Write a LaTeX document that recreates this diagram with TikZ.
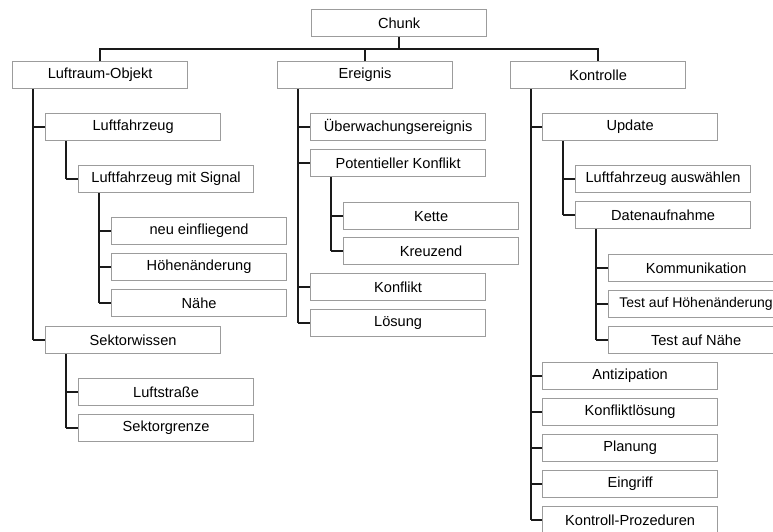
\documentclass[tikz,border=0pt]{standalone}
\usepackage{fontspec}
\setmainfont{Liberation Sans}
\definecolor{boxline}{HTML}{9C9C9C}
\definecolor{link}{HTML}{1A1A1A}
\begin{document}
\begin{tikzpicture}[x=1pt,y=-1pt,
  item/.style={draw=boxline, line width=1.2pt, fill=white, anchor=north west,
    minimum width=175pt, minimum height=27pt, inner sep=0pt,
    font=\fontsize{14.6}{16}\selectfont},
  tree/.style={draw=link, line width=1.5pt}]
\useasboundingbox (0,0) rectangle (773,531);
\clip (0,0) rectangle (773,531);

% root and first level
\node[item] (chunk) at (311,9)  {Chunk};
\node[item] (lo)    at (12,61)  {Luftraum-Objekt};
\node[item] (er)    at (277,61) {Ereignis};
\node[item] (ko)    at (510,61) {Kontrolle};

% Luftraum-Objekt branch
\node[item] (lf)  at (45,113)  {Luftfahrzeug};
\node[item] (lfs) at (78,165)  {Luftfahrzeug mit Signal};
\node[item] (neu) at (111,217) {neu einfliegend};
\node[item] (hoe) at (111,253) {Höhenänderung};
\node[item] (nae) at (111,289) {Nähe};
\node[item] (sek) at (45,326)  {Sektorwissen};
\node[item] (str) at (78,378)  {Luftstraße};
\node[item] (sgr) at (78,414)  {Sektorgrenze};

% Ereignis branch
\node[item] (ue)  at (310,113) {Überwachungsereignis};
\node[item] (pk)  at (310,149) {Potentieller Konflikt};
\node[item] (ket) at (343,202) {Kette};
\node[item] (kre) at (343,237) {Kreuzend};
\node[item] (kon) at (310,273) {Konflikt};
\node[item] (loe) at (310,309) {Lösung};

% Kontrolle branch
\node[item] (up)  at (542,113) {Update};
\node[item] (lfa) at (575,165) {Luftfahrzeug auswählen};
\node[item] (dat) at (575,201) {Datenaufnahme};
\node[item] (kom) at (608,254) {Kommunikation};
\node[item, font=\fontsize{14}{16}\selectfont] (tah) at (608,290) {Test auf Höhenänderung};
\node[item] (tan) at (608,326) {Test auf Nähe};
\node[item] (ant) at (542,362) {Antizipation};
\node[item] (kfl) at (542,398) {Konfliktlösung};
\node[item] (pla) at (542,434) {Planung};
\node[item] (ein) at (542,470) {Eingriff};
\node[item] (kpr) at (542,506) {Kontroll-Prozeduren};

% bus below the root
\coordinate (bus) at (0,49);
\draw[tree] (chunk.south) -- (chunk.south |- bus);
\draw[tree] (lo.north) -- (lo.north |- bus) -- (ko.north |- bus) -- (ko.north);
\draw[tree] (er.north) -- (er.north |- bus);

% indented child lists: spine 21pt in from the parent's left edge
\foreach \p/\kids/\last in {lo/{lf,sek}/sek, lf/{lfs}/lfs, lfs/{neu,hoe,nae}/nae,
    sek/{str,sgr}/sgr, er/{ue,pk,kon,loe}/loe, pk/{ket,kre}/kre,
    ko/{up,ant,kfl,pla,ein,kpr}/kpr, up/{lfa,dat}/dat, dat/{kom,tah,tan}/tan} {
  \draw[tree] ([xshift=21pt]\p.south west) -- ([xshift=21pt]\p.south west |- \last.west);
  \foreach \c in \kids {
    \draw[tree] ([xshift=21pt]\p.south west |- \c.west) -- (\c.west);
  }
}
\end{tikzpicture}
\end{document}
